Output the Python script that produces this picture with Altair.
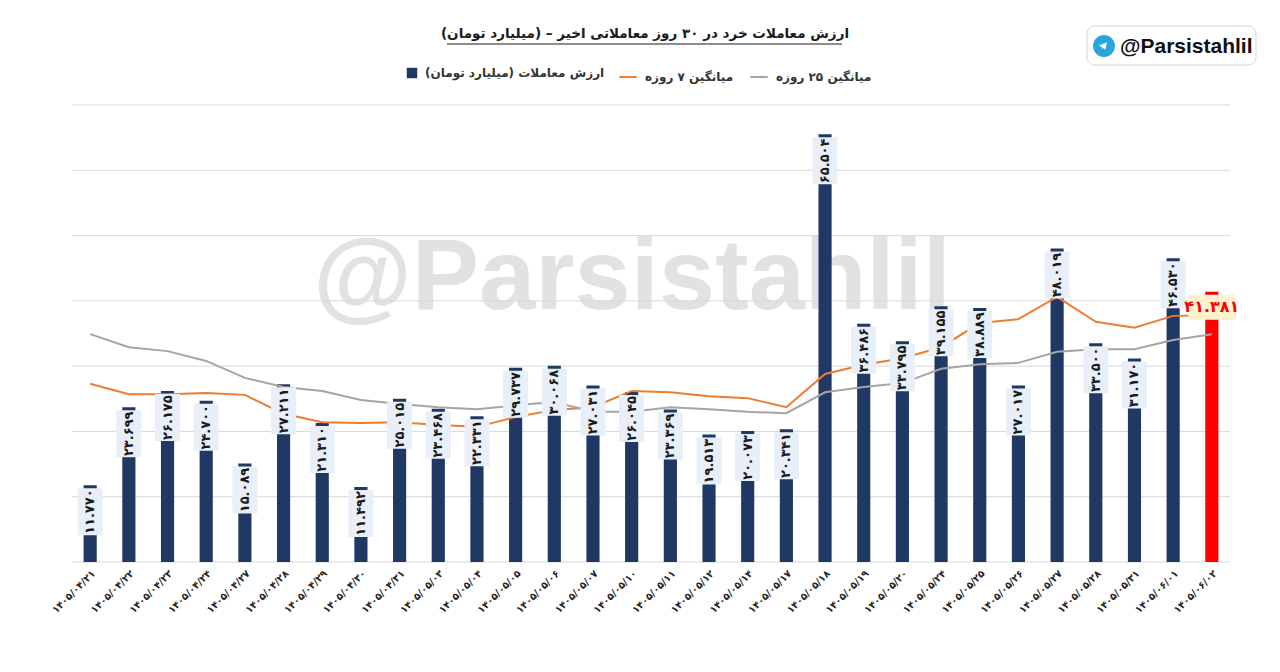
import altair as alt
import pandas as pd

# ---- data ----
dates = ["۱۴۰۵/۰۴/۲۱", "۱۴۰۵/۰۴/۲۲", "۱۴۰۵/۰۴/۲۳", "۱۴۰۵/۰۴/۲۴", "۱۴۰۵/۰۴/۲۷",
         "۱۴۰۵/۰۴/۲۸", "۱۴۰۵/۰۴/۲۹", "۱۴۰۵/۰۴/۳۰", "۱۴۰۵/۰۴/۳۱", "۱۴۰۵/۰۵/۰۳",
         "۱۴۰۵/۰۵/۰۴", "۱۴۰۵/۰۵/۰۵", "۱۴۰۵/۰۵/۰۶", "۱۴۰۵/۰۵/۰۷", "۱۴۰۵/۰۵/۱۰",
         "۱۴۰۵/۰۵/۱۱", "۱۴۰۵/۰۵/۱۲", "۱۴۰۵/۰۵/۱۴", "۱۴۰۵/۰۵/۱۷", "۱۴۰۵/۰۵/۱۸",
         "۱۴۰۵/۰۵/۱۹", "۱۴۰۵/۰۵/۲۰", "۱۴۰۵/۰۵/۲۴", "۱۴۰۵/۰۵/۲۵", "۱۴۰۵/۰۵/۲۶",
         "۱۴۰۵/۰۵/۲۷", "۱۴۰۵/۰۵/۲۸", "۱۴۰۵/۰۵/۳۱", "۱۴۰۵/۰۶/۰۱", "۱۴۰۵/۰۶/۰۲"]

values = [11.770, 23.699, 26.175, 24.700, 15.089, 27.211, 21.310, 11.492, 25.015, 23.468,
          22.331, 29.737, 30.068, 27.031, 26.045, 23.369, 19.513, 20.073, 20.341, 65.504,
          36.486, 33.795, 39.155, 38.889, 27.017, 48.019, 33.500, 31.170, 46.530, 41.381]

ma7 = [27.3, 25.7, 25.7, 25.9, 25.6, 22.7, 21.4, 21.3, 21.4, 21.0,
       20.7, 22.2, 23.3, 23.7, 26.2, 26.0, 25.4, 25.1, 23.7, 28.8,
       30.2, 31.2, 32.9, 36.6, 37.2, 40.6, 36.8, 35.9, 37.7, 37.8]

ma25 = [34.9, 32.9, 32.3, 30.8, 28.2, 26.8, 26.2, 24.8, 24.2, 23.7,
        23.4, 24.0, 24.5, 23.0, 23.0, 23.7, 23.4, 23.0, 22.8, 26.0,
        26.8, 27.4, 29.6, 30.3, 30.5, 32.2, 32.6, 32.6, 34.0, 34.9]

grid_values = [0, 10, 20, 30, 40, 50, 60, 70]

RLM = "\u200f"
S_BAR = RLM + "ارزش معاملات (میلیارد تومان)" + RLM
S_7 = RLM + "میانگین ۷ روزه" + RLM
S_25 = RLM + "میانگین ۲۵ روزه" + RLM
TITLE = RLM + "ارزش معاملات خرد در ۳۰ روز معاملاتی اخیر – (میلیارد تومان)" + RLM
BRAND = "@Parsistahlil"

NAVY = "#203864"
ORANGE = "#ED7D31"
GRAY = "#A5A5A5"
RED = "#FF0000"

fa = str.maketrans("0123456789", "۰۱۲۳۴۵۶۷۸۹")
labels = [f"{v:.3f}".translate(fa) for v in values]

df = pd.DataFrame({
    "date": dates,
    "value": values,
    "label": labels,
    "series": [S_BAR] * len(dates),
    "last": [i == len(dates) - 1 for i in range(len(dates))],
    S_7: ma7,
    S_25: ma25,
})
grid_df = pd.DataFrame({"g": grid_values})

FONT = "DejaVu Sans"

x_enc = alt.X("date:N", sort=None, title=None,
              scale=alt.Scale(paddingInner=0.66, paddingOuter=0.3),
              axis=alt.Axis(labelAngle=-45, labelFont=FONT, labelFontSize=10,
                            labelFontWeight="bold", labelColor="#262626",
                            ticks=False, domain=False, grid=False, labelPadding=6))
y_scale = alt.Scale(domain=[0, 70], nice=False)
y_plain = alt.Y("value:Q", scale=y_scale, axis=None)

legend_common = dict(title=None, orient="none", direction="horizontal",
                     labelFont=FONT, labelFontSize=12, labelFontWeight="bold",
                     labelColor="#333333", labelOffset=7, labelLimit=400)

fill_legend = alt.Legend(legendX=334, legendY=-38, symbolType="square",
                         symbolSize=110, symbolOpacity=1, **legend_common)
stroke_legend = alt.Legend(legendX=546, legendY=-38, symbolType="stroke",
                           symbolSize=300, symbolStrokeWidth=2, columnPadding=12,
                           **legend_common)

one = pd.DataFrame({"k": [0]})

# watermark
watermark = alt.Chart(one).mark_text(
    text=BRAND, font="Liberation Sans", fontWeight="bold", fontSize=101,
    align="center", baseline="alphabetic", color="#e2e2e2",
).encode(x=alt.value(560), y=alt.value(204))

# horizontal gridlines (drawn over the watermark, under the bars)
grid = alt.Chart(grid_df).mark_rule(color="#d9d9d9", strokeWidth=1).encode(
    y=alt.Y("g:Q", scale=y_scale, axis=None),
    x=alt.value(0), x2=alt.value(1158),
)

bars = alt.Chart(df).mark_bar().encode(
    x=x_enc, y=y_plain,
    fill=alt.condition("datum.last", alt.value(RED),
                       alt.Fill("series:N", scale=alt.Scale(domain=[S_BAR], range=[NAVY]),
                                legend=fill_legend)),
)

lines = alt.Chart(df).transform_fold([S_7, S_25], as_=["series", "ma"]).mark_line(
    strokeWidth=2
).encode(
    x=x_enc,
    y=alt.Y("ma:Q", scale=y_scale, axis=None),
    stroke=alt.Stroke("series:N", scale=alt.Scale(domain=[S_7, S_25], range=[ORANGE, GRAY]),
                      legend=stroke_legend),
)

boxes = alt.Chart(df).transform_filter("!datum.last").mark_bar(
    width=25, yOffset=3, y2Offset=50, color="#E8EFF8"
).encode(x=x_enc, y=y_plain, y2="value:Q")

texts = alt.Chart(df).transform_filter("!datum.last").mark_text(
    angle=270, yOffset=26.5, font=FONT, fontSize=13, fontWeight="bold",
    color="#1a1a1a", align="center", baseline="middle",
).encode(x=x_enc, y=y_plain, text="label:N")

last_box = alt.Chart(df).transform_filter("datum.last").mark_bar(
    width=47, yOffset=3, y2Offset=28, color="#FFF2CC"
).encode(x=x_enc, y=y_plain, y2="value:Q")

last_text = alt.Chart(df).transform_filter("datum.last").mark_text(
    yOffset=15.5, font=FONT, fontSize=16, fontWeight="bold", color=RED,
    align="center", baseline="middle",
).encode(x=x_enc, y=y_plain, text="label:N")

# title and its underline
title_text = alt.Chart(one).mark_text(
    text=TITLE, font=FONT, fontSize=13.5, fontWeight="bold", color="#1a1a1a",
    align="center", baseline="alphabetic",
).encode(x=alt.value(573), y=alt.value(-67))
underline = alt.Chart(one).mark_rule(color="#1a1a1a", strokeWidth=1).encode(
    x=alt.value(375), x2=alt.value(770), y=alt.value(-61))

# telegram badge
badge = alt.Chart(one).mark_rect(
    fill="white", stroke="#d4d4d4", strokeWidth=1, cornerRadius=8
).encode(x=alt.value(1015), x2=alt.value(1184), y=alt.value(-79), y2=alt.value(-40))
badge_icon = alt.Chart(one).mark_point(
    filled=True, color="#2AA3DF", shape="circle", size=480, opacity=1
).encode(x=alt.value(1032), y=alt.value(-59))
plane = alt.Chart(one).mark_point(
    filled=True, color="white", opacity=1, size=110,
    shape="M -0.85 -0.05 L 0.75 -0.7 L 0.45 0.7 L 0.05 0.35 L -0.15 0.65 L -0.2 0.2 Z",
).encode(x=alt.value(1031), y=alt.value(-59))
badge_text = alt.Chart(one).mark_text(
    text=BRAND, font="Liberation Sans", fontWeight="bold", fontSize=21,
    align="left", baseline="alphabetic", color="#111111",
).encode(x=alt.value(1048), y=alt.value(-52))

chart = alt.layer(
    watermark, grid, bars, lines, boxes, texts, last_box, last_text,
    title_text, underline, badge, badge_icon, plane, badge_text,
).resolve_scale(fill="independent", stroke="independent").properties(
    width=1158, height=457,
    background="white",
    autosize=alt.AutoSizeParams(type="none"),
    padding={"left": 64, "top": 97, "right": 42, "bottom": 90},
).configure_view(
    stroke="transparent", strokeWidth=0
)

chart.save("out.html", embed_options={"renderer": "svg", "actions": False})
